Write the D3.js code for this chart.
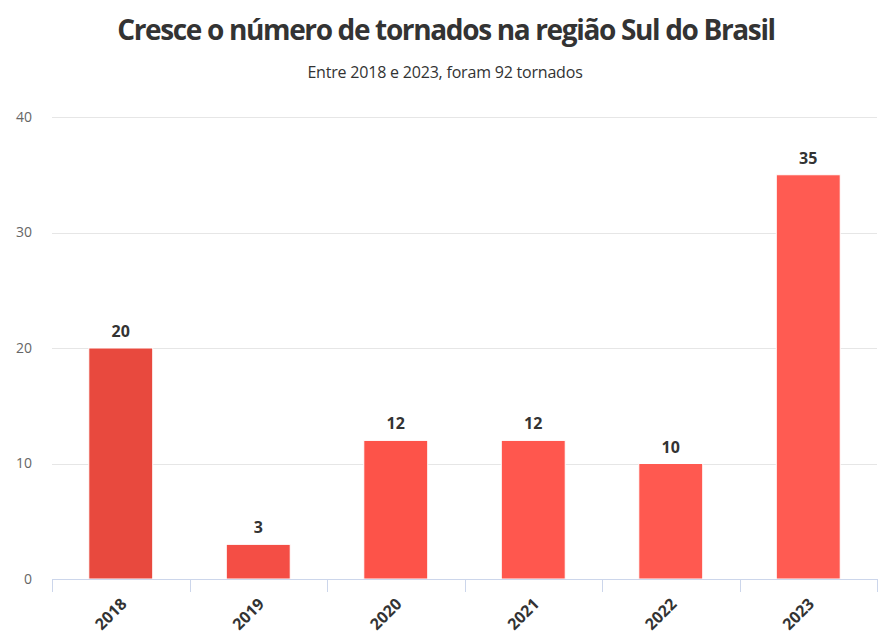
<!DOCTYPE html>
<html>
<head>
<meta charset="utf-8">
<script src="https://cdn.jsdelivr.net/npm/d3@7"></script>
<style>
  body { margin: 0; background: #fff; }
  text { font-family: "Open Sans", sans-serif; }
</style>
</head>
<body>
<div id="chart"></div>
<script>
  var years = ['2018', '2019', '2020', '2021', '2022', '2023'];
  var tornados = [20, 3, 12, 12, 10, 35];
  var barColors = ['#e8493e', '#f44e45', '#fd5349', '#ff574e', '#ff5950', '#ff5b52'];
  var yTicks = [0, 10, 20, 30, 40];

  var W = 891, H = 638;
  var margin = { top: 117, right: 14, bottom: 59, left: 52 };
  var width = W - margin.left - margin.right;
  var height = H - margin.top - margin.bottom;

  var data = years.map(function(y, i) { return { year: y, value: tornados[i], color: barColors[i] }; });

  var root = d3.select('#chart').append('svg')
    .attr('width', W)
    .attr('height', H);

  root.append('text')
    .attr('x', 446)
    .attr('y', 40)
    .attr('text-anchor', 'middle')
    .style('font-size', '28px')
    .style('font-weight', 'bold')
    .style('letter-spacing', '-1.35px')
    .style('fill', '#333')
    .text('Cresce o número de tornados na região Sul do Brasil');

  root.append('text')
    .attr('x', 445)
    .attr('y', 78)
    .attr('text-anchor', 'middle')
    .style('font-size', '16px')
    .style('letter-spacing', '-0.2px')
    .style('fill', '#333')
    .text('Entre 2018 e 2023, foram 92 tornados');

  var svg = root.append('g')
    .attr('transform', 'translate(' + margin.left + ',' + margin.top + ')');

  var x = d3.scaleBand()
    .domain(years)
    .range([0, width])
    .paddingInner(0.535)
    .paddingOuter(0.2675);

  var y = d3.scaleLinear()
    .domain([0, 40])
    .range([height, 0]);

  // gridlines
  svg.selectAll('.grid')
    .data(yTicks)
    .enter().append('line')
    .attr('class', 'grid')
    .attr('x1', 0)
    .attr('x2', width)
    .attr('y1', function(d) { return Math.round(y(d)) + 0.5; })
    .attr('y2', function(d) { return Math.round(y(d)) + 0.5; })
    .attr('stroke', '#e6e6e6')
    .attr('stroke-width', 1);

  svg.selectAll('.y-label')
    .data(yTicks)
    .enter().append('text')
    .attr('class', 'y-label')
    .attr('x', -20)
    .attr('y', function(d) { return y(d); })
    .attr('dy', '0.35em')
    .attr('text-anchor', 'end')
    .style('font-size', '14px')
    .style('fill', '#666')
    .text(function(d) { return d; });

  svg.selectAll('.bar')
    .data(data)
    .enter().append('rect')
    .attr('class', 'bar')
    .attr('x', function(d) { return x(d.year); })
    .attr('y', function(d) { return y(d.value); })
    .attr('width', x.bandwidth())
    .attr('height', function(d) { return height - y(d.value); })
    .attr('fill', function(d) { return d.color; })
    .attr('stroke', '#fff')
    .attr('stroke-width', 1);

  svg.selectAll('.bar-score')
    .data(data)
    .enter().append('text')
    .attr('class', 'bar-score')
    .attr('x', function(d) { return x(d.year) + x.bandwidth() / 2; })
    .attr('y', function(d) { return y(d.value) - 11; })
    .attr('text-anchor', 'middle')
    .style('font-size', '16px')
    .style('font-weight', 'bold')
    .style('fill', '#333')
    .text(function(d) { return d.value; });

  // x axis
  var xAxis = svg.append('g')
    .attr('transform', 'translate(0,' + height + ')');

  xAxis.append('line')
    .attr('x1', 0).attr('x2', width)
    .attr('y1', 0.5).attr('y2', 0.5)
    .attr('stroke', '#ccd6eb');

  var step = x.step();
  var bounds = d3.range(years.length + 1).map(function(i) { return i * step; });
  xAxis.selectAll('.tick-mark')
    .data(bounds)
    .enter().append('line')
    .attr('class', 'tick-mark')
    .attr('x1', function(d) { return Math.round(d) + 0.5; })
    .attr('x2', function(d) { return Math.round(d) + 0.5; })
    .attr('y1', 0)
    .attr('y2', 13)
    .attr('stroke', '#ccd6eb');

  xAxis.selectAll('.x-label')
    .data(years)
    .enter().append('text')
    .attr('class', 'x-label')
    .attr('transform', function(d) {
      return 'translate(' + (x(d) + x.bandwidth() / 2 + 7) + ',26) rotate(-45)';
    })
    .attr('text-anchor', 'end')
    .style('font-size', '16px')
    .style('font-weight', 'bold')
    .style('fill', '#333')
    .text(function(d) { return d; });
</script>
</body>
</html>
